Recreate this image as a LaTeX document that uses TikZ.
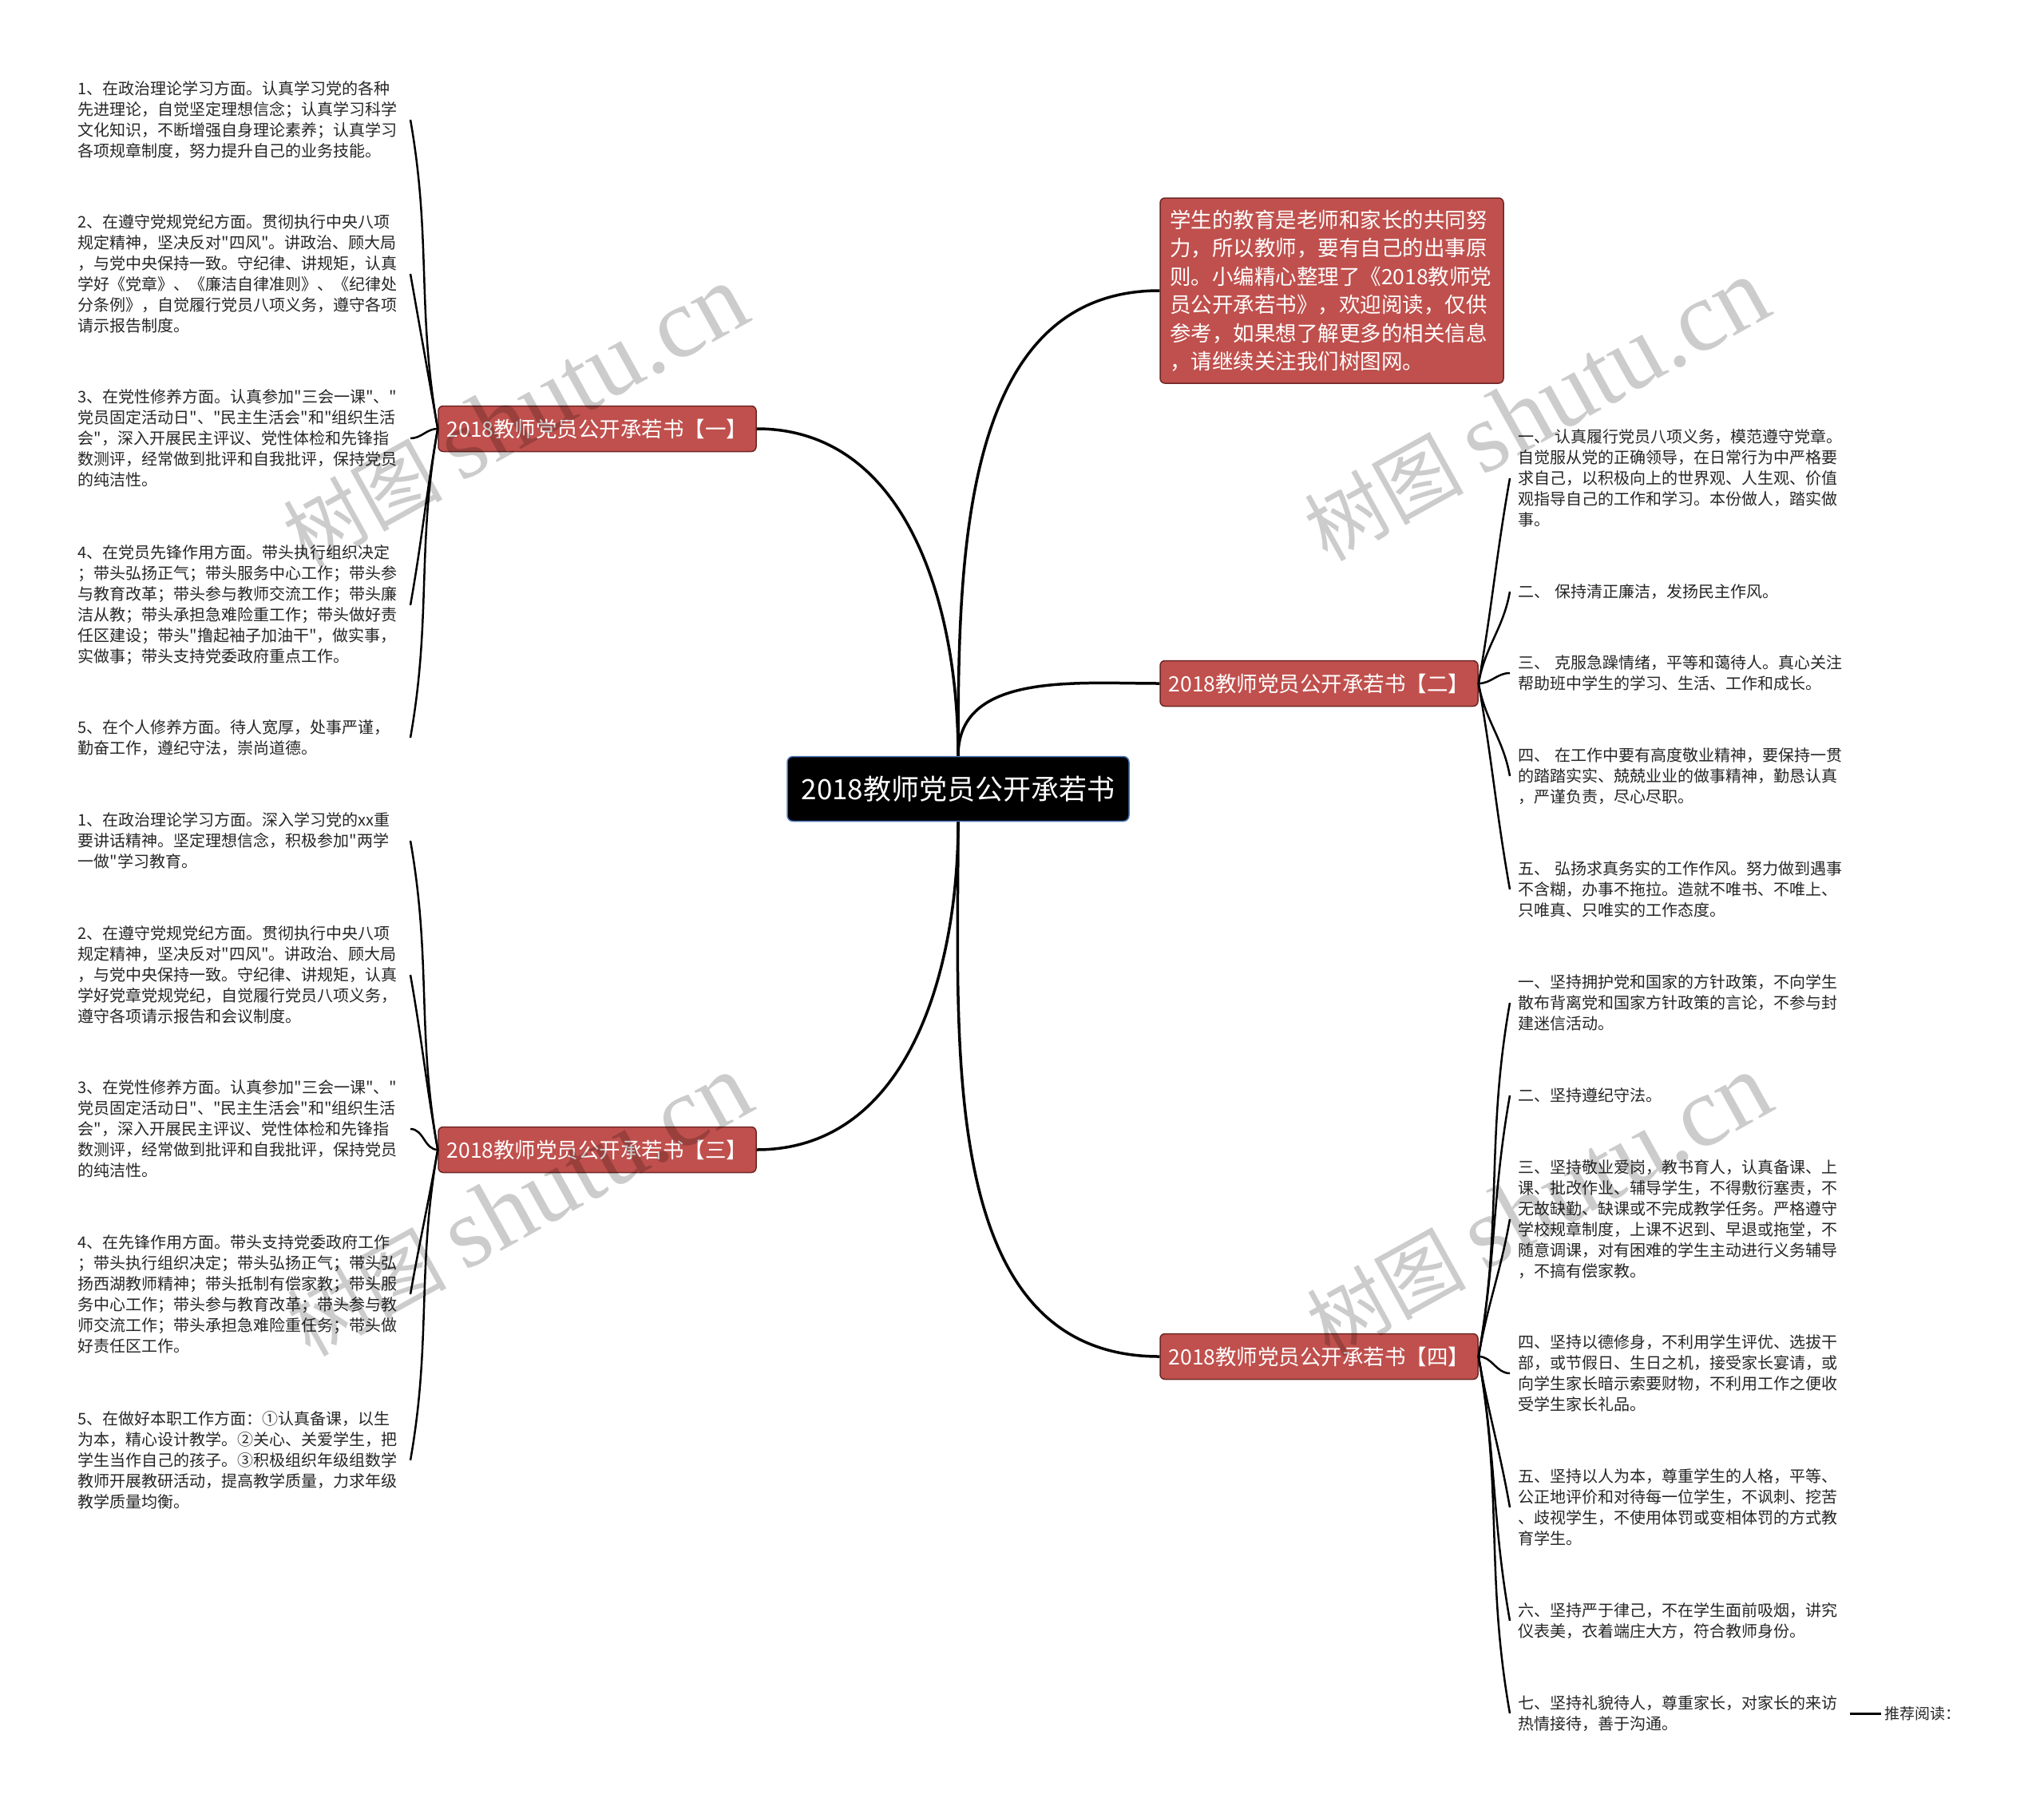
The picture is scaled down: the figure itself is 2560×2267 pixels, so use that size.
\documentclass[tikz,border=0pt]{standalone}
\usepackage{fontspec}
\setmainfont{Noto Sans CJK SC}[Ligatures=TeXOff]
\newfontfamily\wmlatin{Liberation Serif}
\usetikzlibrary{shapes.geometric, arrows}
\definecolor{topicred}{HTML}{C0504D}
\definecolor{topicedge}{HTML}{6E2624}
\definecolor{mainedge}{HTML}{4A74B8}
\tikzstyle{mainnode} = [rectangle, rounded corners=7pt, minimum width=428pt, minimum height=81pt, draw=mainedge, line width=1.5pt, fill=black, text=white, font=\fontsize{35}{42}\selectfont]
\tikzstyle{subtopic} = [rectangle, rounded corners=6pt, minimum width=398pt, minimum height=57pt, draw=topicedge, line width=1.5pt, fill=topicred, text=white, font=\fontsize{26.5}{32}\selectfont]
\tikzstyle{summary} = [rectangle, rounded corners=6pt, minimum width=430pt, minimum height=232pt, inner xsep=12pt, draw=topicedge, line width=1.5pt, fill=topicred, text=white, text width=406pt, align=left, font=\fontsize{26.5}{35.5}\selectfont]
\tikzstyle{detail} = [rectangle, inner xsep=10pt, inner ysep=4pt, text width=406pt, align=left, text=black!85, font=\fontsize{20}{26}\selectfont]
\tikzstyle{trunk} = [line width=3.5pt, black]
\tikzstyle{twig} = [line width=2.5pt, black]
\tikzstyle{watermark} = [rotate=29, opacity=0.2, font=\fontsize{100}{110}\selectfont]

\begin{document}
\begin{tikzpicture}[x=1pt, y=1pt]

\fill [white] (0,0) rectangle (2560,-2267);
\useasboundingbox (0,0) rectangle (2560,-2267);

\node (main) [mainnode] at (1200,-988) {2018教师党员公开承若书};
\node (sum) [summary] at (1668,-364) {学生的教育是老师和家长的共同努\\力，所以教师，要有自己的出事原\\则。小编精心整理了《2018教师党\\员公开承若书》，欢迎阅读，仅供\\参考，如果想了解更多的相关信息\\，请继续关注我们树图网。};
\node (one) [subtopic] at (748,-537) {2018教师党员公开承若书【一】};
\node (two) [subtopic] at (1652,-856) {2018教师党员公开承若书【二】};
\node (three) [subtopic] at (748,-1440) {2018教师党员公开承若书【三】};
\node (four) [subtopic] at (1652,-1699) {2018教师党员公开承若书【四】};

% branch one
\node (one1) [detail, anchor=east] at (514,-150) {1、在政治理论学习方面。认真学习党的各种\\先进理论，自觉坚定理想信念；认真学习科学\\文化知识，不断增强自身理论素养；认真学习\\各项规章制度，努力提升自己的业务技能。};
\node (one2) [detail, anchor=east] at (514,-343) {2、在遵守党规党纪方面。贯彻执行中央八项\\规定精神，坚决反对"四风"。讲政治、顾大局\\，与党中央保持一致。守纪律、讲规矩，认真\\学好《党章》、《廉洁自律准则》、《纪律处\\分条例》，自觉履行党员八项义务，遵守各项\\请示报告制度。};
\node (one3) [detail, anchor=east] at (514,-549) {3、在党性修养方面。认真参加"三会一课"、"\\党员固定活动日"、"民主生活会"和"组织生活\\会"，深入开展民主评议、党性体检和先锋指\\数测评，经常做到批评和自我批评，保持党员\\的纯洁性。};
\node (one4) [detail, anchor=east] at (514,-758) {4、在党员先锋作用方面。带头执行组织决定\\；带头弘扬正气；带头服务中心工作；带头参\\与教育改革；带头参与教师交流工作；带头廉\\洁从教；带头承担急难险重工作；带头做好责\\任区建设；带头"撸起袖子加油干"，做实事，\\实做事；带头支持党委政府重点工作。};
\node (one5) [detail, anchor=east] at (514,-924) {5、在个人修养方面。待人宽厚，处事严谨，\\勤奋工作，遵纪守法，崇尚道德。};

% branch three
\node (three1) [detail, anchor=east] at (514,-1053) {1、在政治理论学习方面。深入学习党的xx重\\要讲话精神。坚定理想信念，积极参加"两学\\一做"学习教育。};
\node (three2) [detail, anchor=east] at (514,-1221) {2、在遵守党规党纪方面。贯彻执行中央八项\\规定精神，坚决反对"四风"。讲政治、顾大局\\，与党中央保持一致。守纪律、讲规矩，认真\\学好党章党规党纪，自觉履行党员八项义务，\\遵守各项请示报告和会议制度。};
\node (three3) [detail, anchor=east] at (514,-1414) {3、在党性修养方面。认真参加"三会一课"、"\\党员固定活动日"、"民主生活会"和"组织生活\\会"，深入开展民主评议、党性体检和先锋指\\数测评，经常做到批评和自我批评，保持党员\\的纯洁性。};
\node (three4) [detail, anchor=east] at (514,-1621) {4、在先锋作用方面。带头支持党委政府工作\\；带头执行组织决定；带头弘扬正气；带头弘\\扬西湖教师精神；带头抵制有偿家教；带头服\\务中心工作；带头参与教育改革；带头参与教\\师交流工作；带头承担急难险重任务；带头做\\好责任区工作。};
\node (three5) [detail, anchor=east] at (514,-1829) {5、在做好本职工作方面：①认真备课，以生\\为本，精心设计教学。②关心、关爱学生，把\\学生当作自己的孩子。③积极组织年级组数学\\教师开展教研活动，提高教学质量，力求年级\\教学质量均衡。};

% branch two
\node (two1) [detail, anchor=west] at (1891,-599) {一、 认真履行党员八项义务，模范遵守党章。\\自觉服从党的正确领导，在日常行为中严格要\\求自己，以积极向上的世界观、人生观、价值\\观指导自己的工作和学习。本份做人，踏实做\\事。};
\node (two2) [detail, anchor=west] at (1891,-741) {二、 保持清正廉洁，发扬民主作风。};
\node (two3) [detail, anchor=west] at (1891,-843) {三、 克服急躁情绪，平等和蔼待人。真心关注\\帮助班中学生的学习、生活、工作和成长。};
\node (two4) [detail, anchor=west] at (1891,-972) {四、 在工作中要有高度敬业精神，要保持一贯\\的踏踏实实、兢兢业业的做事精神，勤恳认真\\，严谨负责，尽心尽职。};
\node (two5) [detail, anchor=west] at (1891,-1114) {五、 弘扬求真务实的工作作风。努力做到遇事\\不含糊，办事不拖拉。造就不唯书、不唯上、\\只唯真、只唯实的工作态度。};

% branch four
\node (four1) [detail, anchor=west] at (1891,-1256) {一、坚持拥护党和国家的方针政策，不向学生\\散布背离党和国家方针政策的言论，不参与封\\建迷信活动。};
\node (four2) [detail, anchor=west] at (1891,-1372) {二、坚持遵纪守法。};
\node (four3) [detail, anchor=west] at (1891,-1527) {三、坚持敬业爱岗，教书育人，认真备课、上\\课、批改作业、辅导学生，不得敷衍塞责，不\\无故缺勤、缺课或不完成教学任务。严格遵守\\学校规章制度，上课不迟到、早退或拖堂，不\\随意调课，对有困难的学生主动进行义务辅导\\，不搞有偿家教。};
\node (four4) [detail, anchor=west] at (1891,-1720) {四、坚持以德修身，不利用学生评优、选拔干\\部，或节假日、生日之机，接受家长宴请，或\\向学生家长暗示索要财物，不利用工作之便收\\受学生家长礼品。};
\node (four5) [detail, anchor=west] at (1891,-1888) {五、坚持以人为本，尊重学生的人格，平等、\\公正地评价和对待每一位学生，不讽刺、挖苦\\、歧视学生，不使用体罚或变相体罚的方式教\\育学生。};
\node (four6) [detail, anchor=west] at (1891,-2030) {六、坚持严于律己，不在学生面前吸烟，讲究\\仪表美，衣着端庄大方，符合教师身份。};
\node (four7) [detail, anchor=west] at (1891,-2146) {七、坚持礼貌待人，尊重家长，对家长的来访\\热情接待，善于沟通。};
\node (more) [anchor=west, inner xsep=4pt, text=black!85, font=\fontsize{19}{24}\selectfont] at (2356,-2146) {推荐阅读：};

\draw [trunk] (main.north) to[out=90,in=0] (one.east);
\draw [trunk] (main.north) to[out=90,in=180] (sum.west);
\draw [trunk] (main.north) to[out=90,in=180] (two.west);
\draw [trunk] (main.south) to[out=-90,in=0] (three.east);
\draw [trunk] (main.south) to[out=-90,in=180] (four.west);

\draw [twig] (one.west) to[out=100,in=-80] (one1.east);
\draw [twig] (one.west) to[out=100,in=-80] (one2.east);
\draw [twig] (one.west) to[out=180,in=0] (one3.east);
\draw [twig] (one.west) to[out=-100,in=80] (one4.east);
\draw [twig] (one.west) to[out=-100,in=80] (one5.east);

\draw [twig] (three.west) to[out=100,in=-80] (three1.east);
\draw [twig] (three.west) to[out=100,in=-80] (three2.east);
\draw [twig] (three.west) to[out=180,in=0] (three3.east);
\draw [twig] (three.west) to[out=-100,in=80] (three4.east);
\draw [twig] (three.west) to[out=-100,in=80] (three5.east);

\draw [twig] (two.east) to[out=80,in=-100] (two1.west);
\draw [twig] (two.east) to[out=80,in=-100] (two2.west);
\draw [twig] (two.east) to[out=0,in=180] (two3.west);
\draw [twig] (two.east) to[out=-80,in=100] (two4.west);
\draw [twig] (two.east) to[out=-80,in=100] (two5.west);

\draw [twig] (four.east) to[out=80,in=-100] (four1.west);
\draw [twig] (four.east) to[out=80,in=-100] (four2.west);
\draw [twig] (four.east) to[out=80,in=-100] (four3.west);
\draw [twig] (four.east) to[out=0,in=180] (four4.west);
\draw [twig] (four.east) to[out=-80,in=100] (four5.west);
\draw [twig] (four.east) to[out=-80,in=100] (four6.west);
\draw [twig] (four.east) to[out=-80,in=100] (four7.west);
\draw [line width=3pt] (four7.east) -- (more.west);

% watermarks
\node (wm1) [watermark] at (645,-522) {树图 {\wmlatin\fontsize{125}{130}\selectfont shutu.cn}};
\node (wm2) [watermark] at (1924,-514) {树图 {\wmlatin\fontsize{125}{130}\selectfont shutu.cn}};
\node (wm3) [watermark] at (650,-1510) {树图 {\wmlatin\fontsize{125}{130}\selectfont shutu.cn}};
\node (wm4) [watermark] at (1927,-1510) {树图 {\wmlatin\fontsize{125}{130}\selectfont shutu.cn}};

\end{tikzpicture}
\end{document}
